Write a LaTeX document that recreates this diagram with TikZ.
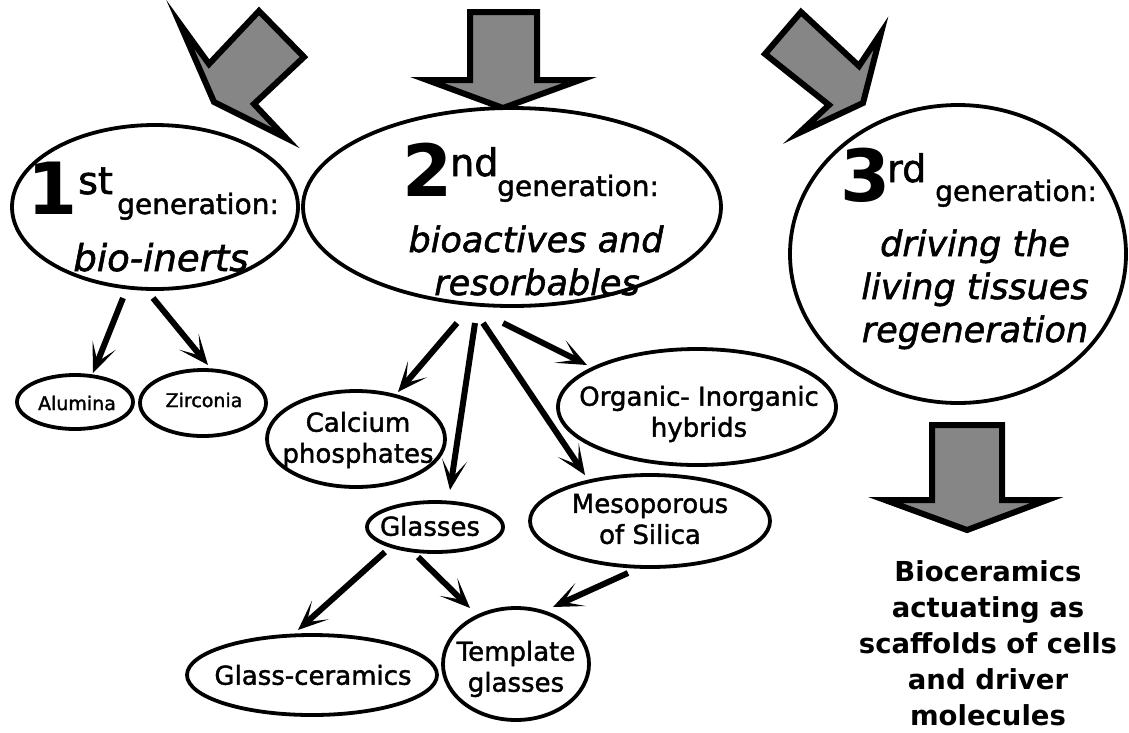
\documentclass[tikz,border=0pt]{standalone}
\usepackage{fontspec}
\setmainfont{DejaVu Sans}
\newfontfamily\comicfont{DejaVu Sans}[FakeBold=1.6]
\usetikzlibrary{arrows.meta,shapes.geometric}
\definecolor{arrowgray}{HTML}{868686}
\newcommand\fsz[1]{\fontsize{#1}{#1}\selectfont}
\begin{document}
\begin{tikzpicture}[x=1pt,y=-1pt,
  ell/.style={draw, ellipse, line width=3.8pt, inner sep=0pt, fill=white},
  lbl/.style={inner sep=0pt, anchor=base},
  lblw/.style={inner sep=0pt, anchor=base west},
  gen/.style={lblw, font=\comicfont\fsz{28}},
  bignum/.style={lblw, font=\fsz{72}\bfseries},
  supx/.style={lblw, font=\comicfont\fsz{38}},
  ital/.style={lbl, font=\comicfont\fsz{35}\itshape},
  nt/.style={inner sep=0pt, align=center, font=\comicfont\fontsize{26}{31}\selectfont},
  ntsmall/.style={inner sep=0pt, align=center, font=\comicfont\fsz{19}},
  conn/.style={line width=6pt, -{Stealth[length=30pt,width=25pt,inset=18pt]}},
  blockarrow/.style={draw, line width=6pt, fill=arrowgray, line join=miter, miter limit=20}
]
\useasboundingbox (0,0) rectangle (1129,732);
\fill[white] (0,0) rectangle (1129,732);

% big block arrows
\draw[blockarrow] (259,11) -- (304,57) -- (254,104) -- (286,138) -- (214,102) -- (180,24) -- (209,64) -- cycle;
\draw[blockarrow] (470,12) -- (537,12) -- (537,80) -- (580,80) -- (503,108) -- (427,80) -- (470,80) -- cycle;
\draw[blockarrow] (765,54) -- (801,12) -- (859,66) -- (881,33) -- (863,103) -- (799,133) -- (829,105) -- cycle;
\draw[blockarrow] (932,425) -- (1002,425) -- (1002,500) -- (1047,500) -- (967,530) -- (885,500) -- (932,500) -- cycle;

% generation ellipses
\node[ell, minimum width=286pt, minimum height=164pt] (e1) at (155,207) {};
\node[ell, minimum width=418pt, minimum height=198pt] (e2) at (512,207) {};
\node[ell, minimum width=336pt, minimum height=298pt] (e3) at (958,254) {};

% 1st generation text
\node[bignum] (d1) at (27,214) {1};
\node[supx] (s1) at (78,194) {st};
\node[gen] (g1) at (117,214) {generation:};
\node[ital, font=\comicfont\fsz{37}\itshape] (i1) at (161,271) {bio-inerts};

% 2nd generation text
\node[bignum] (d2) at (402,196) {2};
\node[supx] (s2) at (450,176) {nd};
\node[gen] (g2) at (497,196) {generation:};
\node[ital] (i2a) at (536,252) {bioactives and};
\node[ital] (i2b) at (537,295) {resorbables};

% 3rd generation text
\node[bignum] (d3) at (840,201) {3};
\node[supx] (s3) at (887,182) {rd};
\node[gen] (g3) at (935,201) {generation:};
\node[ital] (i3a) at (975,256) {driving the};
\node[ital] (i3b) at (975,299) {living tissues};
\node[ital] (i3c) at (975,342) {regeneration};

% material ellipses
\node[ell, minimum width=116pt, minimum height=54pt] (alu) at (75,402) {};
\node[ntsmall] (talu) at (77,403) {Alumina};
\node[ell, minimum width=126pt, minimum height=66pt] (zir) at (203,403) {};
\node[ntsmall] (tzir) at (204,400) {Zirconia};
\node[ell, minimum width=178pt, minimum height=96pt] (cal) at (356,439) {};
\node[nt] (tcal) at (358,440) {Calcium\\phosphates};
\node[ell, minimum width=278pt, minimum height=116pt] (org) at (697,407) {};
\node[nt] (torg) at (699,414) {Organic- Inorganic\\hybrids};
\node[ell, minimum width=136pt, minimum height=50pt] (gla) at (435,527) {};
\node[nt] (tgla) at (430,526) {Glasses};
\node[ell, minimum width=240pt, minimum height=92pt] (mes) at (650,521) {};
\node[nt] (tmes) at (650,519) {Mesoporous\\of Silica};
\node[ell, minimum width=250pt, minimum height=80pt] (gce) at (312,675) {};
\node[nt] (tgce) at (313,675) {Glass-ceramics};
\node[ell, minimum width=146pt, minimum height=112pt] (tem) at (516,664) {};
\node[nt] (ttem) at (516,669) {Template\\glasses};

% bottom-right text
\node[inner sep=0pt, anchor=north, align=center, font=\fontsize{27.5}{36}\selectfont\bfseries] (bio) at (988,560)
  {Bioceramics\\actuating as\\scaffolds of cells\\and driver\\molecules};

% connector end points
\coordinate (a1s) at (123,298); \coordinate (a1t) at (93,373);
\coordinate (a2s) at (153,298); \coordinate (a2t) at (208,365);
\coordinate (b1s) at (457,323); \coordinate (b1t) at (398,392);
\coordinate (b2s) at (475,323); \coordinate (b2t) at (450,490);
\coordinate (b3s) at (483,323); \coordinate (b3t) at (585,475);
\coordinate (b4s) at (503,323); \coordinate (b4t) at (587,365);
\coordinate (c1s) at (385,552); \coordinate (c1t) at (298,630);
\coordinate (c2s) at (418,557); \coordinate (c2t) at (470,608);
\coordinate (c3s) at (628,573); \coordinate (c3t) at (553,607);

\draw[conn] (a1s) -- (a1t);
\draw[conn] (a2s) -- (a2t);
\draw[conn] (b1s) -- (b1t);
\draw[conn] (b2s) -- (b2t);
\draw[conn] (b3s) -- (b3t);
\draw[conn] (b4s) -- (b4t);
\draw[conn] (c1s) -- (c1t);
\draw[conn] (c2s) -- (c2t);
\draw[conn] (c3s) -- (c3t);
\end{tikzpicture}
\end{document}
